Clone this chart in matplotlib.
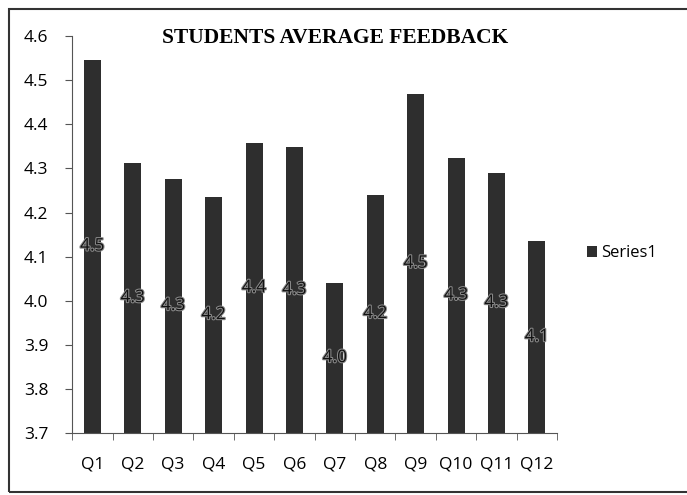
import matplotlib.pyplot as plt
import matplotlib.patheffects as pe
from matplotlib.patches import Rectangle

questions = ["Q1", "Q2", "Q3", "Q4", "Q5", "Q6", "Q7", "Q8", "Q9", "Q10", "Q11", "Q12"]
scores = [4.546, 4.312, 4.276, 4.235, 4.357, 4.348, 4.040, 4.240, 4.468, 4.323, 4.290, 4.135]
y_ticks = [3.7, 3.8, 3.9, 4.0, 4.1, 4.2, 4.3, 4.4, 4.5, 4.6]

fig = plt.figure(figsize=(6.87, 4.95), dpi=100)
ax = fig.add_axes([0.105, 0.125, 0.706, 0.802])

x = range(len(questions))
bars = ax.bar(x, scores, width=0.42, bottom=0, color="#2e2e2e", label="Series1")
ax.set_ylim(3.7, 4.6)
ax.set_xlim(-0.5, len(questions) - 0.5)
ax.set_yticks(y_ticks)
ax.set_yticklabels([f"{v:.1f}" for v in y_ticks], fontsize=12.5, fontfamily="Open Sans")
ax.set_xticks(list(x))
ax.set_xticklabels(questions, fontsize=12.5, fontfamily="Open Sans")
ax.tick_params(axis="x", length=0, pad=17)
ax.tick_params(axis="y", length=5, direction="out", color="#555555", pad=12)
# category boundary ticks like the spreadsheet chart
ax.set_xticks([i - 0.5 for i in range(len(questions) + 1)], minor=True)
ax.tick_params(axis="x", which="minor", length=5, direction="out", color="#555555")

for s in ["top", "right"]:
    ax.spines[s].set_visible(False)
for s in ["left", "bottom"]:
    ax.spines[s].set_color("#555555")

for i, v in enumerate(scores):
    ax.text(i, (3.7 + v) / 2, f"{v:.1f}", ha="center", va="center",
            fontsize=12.5, fontfamily="Open Sans", color="#111111",
            path_effects=[pe.withStroke(linewidth=1.5, foreground="#8a8a8a")])

fig.text(0.488, 0.923, "STUDENTS AVERAGE FEEDBACK", ha="center", va="center",
         fontsize=15.5, fontweight="bold", fontfamily="Liberation Serif")

fig.legend(handles=[bars], labels=["Series1"], loc="center left",
           bbox_to_anchor=(0.832, 0.488), frameon=False,
           handlelength=0.6, handleheight=0.6, handletextpad=0.3,
           prop={"family": "Open Sans", "size": 12})

fig.patches.append(Rectangle((0.013, 0.006), 1.2, 0.976, transform=fig.transFigure,
                             fill=False, edgecolor="#333333", linewidth=1.5))

fig.savefig("out.png", dpi=100)
